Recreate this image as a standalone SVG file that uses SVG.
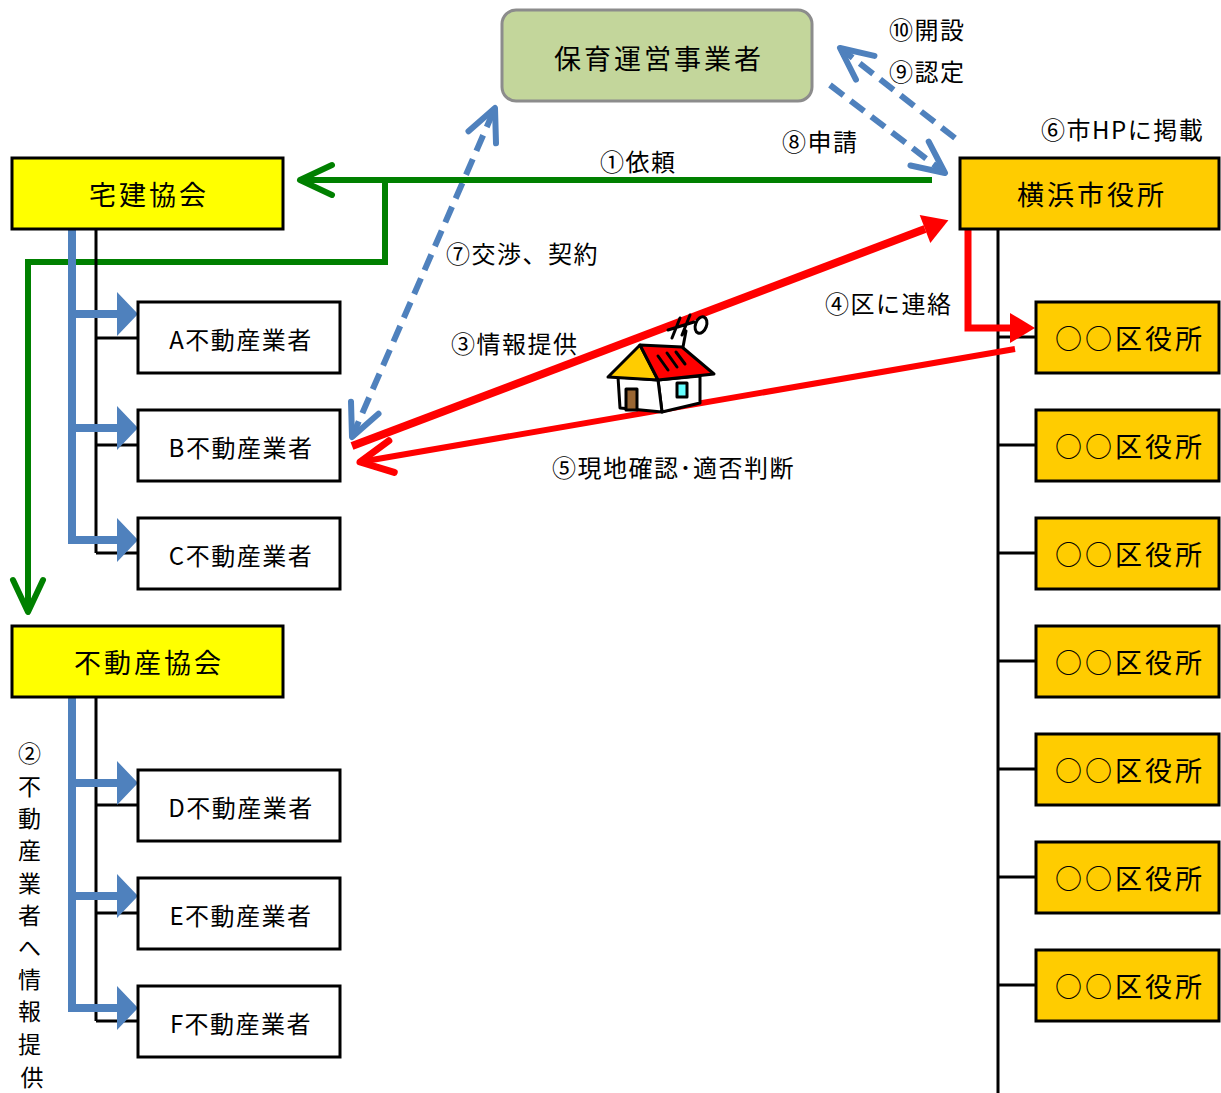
<svg xmlns="http://www.w3.org/2000/svg" width="1221" height="1093" viewBox="0 0 1221 1093">
<style>
  text { font-family: "Noto Sans CJK JP", "Noto Sans", sans-serif; fill: #000; dominant-baseline: central; }
  .lbl { font-size: 24px; letter-spacing: 1.5px; }
  .big { font-size: 27px; letter-spacing: 3px; text-anchor: middle; }
  .mid { font-size: 24px; letter-spacing: 1.5px; text-anchor: middle; }
  .vert { font-size: 23px; text-anchor: middle; }
  .box { stroke: #000; stroke-width: 3; }
  .kyokai { fill: #FFFF00; }
  .shiyaku { fill: #FFCC00; }
  .gyosha { fill: #FFFFFF; }
  .tree { stroke: #000; stroke-width: 3; fill: none; }
  .blue { fill: #4F81BD; }
  .green { stroke: #008000; stroke-width: 6; fill: none; stroke-linejoin: miter; }
  .red { stroke: #FF0000; fill: none; stroke-linejoin: miter; }
  .dash { stroke: #4F81BD; stroke-width: 6; stroke-dasharray: 17 9; fill: none; }
</style>
<defs>
  <marker id="chevBlue" markerUnits="userSpaceOnUse" markerWidth="80" markerHeight="80" viewBox="-40 -40 80 80" refX="0" refY="0" orient="auto-start-reverse" overflow="visible">
    <path d="M-32,-15 L0,0 L-32,15" fill="none" stroke="#4F81BD" stroke-width="6" stroke-linecap="round" stroke-linejoin="round"/>
  </marker>
  <marker id="chevGreen" markerUnits="userSpaceOnUse" markerWidth="80" markerHeight="80" viewBox="-40 -40 80 80" refX="0" refY="0" orient="auto" overflow="visible">
    <path d="M-32,-15 L0,0 L-32,15" fill="none" stroke="#008000" stroke-width="6" stroke-linecap="round" stroke-linejoin="round"/>
  </marker>
  <marker id="chevRed" markerUnits="userSpaceOnUse" markerWidth="80" markerHeight="80" viewBox="-40 -40 80 80" refX="0" refY="0" orient="auto" overflow="visible">
    <path d="M-32,-16 L0,0 L-32,16" fill="none" stroke="#FF0000" stroke-width="7" stroke-linecap="round" stroke-linejoin="round"/>
  </marker>
  <marker id="triRed" markerUnits="userSpaceOnUse" markerWidth="80" markerHeight="80" viewBox="-40 -40 80 80" refX="0" refY="0" orient="auto" overflow="visible">
    <path d="M0,-15 L25,0 L0,15 Z" fill="#FF0000"/>
  </marker>
  <!-- thick blue branch arrow pointing right, origin at the trunk -->
  <path id="branch" d="M0,-4 H49 V-22 L70,0 L49,22 V4 H0 Z"/>
</defs>

<!-- connectors -->
<g id="connectors">
  <!-- ⑦ negotiation / contract -->
  <path class="dash" d="M352,437 L495,108" marker-start="url(#chevBlue)" marker-end="url(#chevBlue)"/>
  <!-- ⑧ application -->
  <path class="dash" d="M830,85 L945,173" marker-end="url(#chevBlue)"/>
  <!-- ⑨ approval / ⑩ opening -->
  <path class="dash" d="M955,138 L840,48" marker-end="url(#chevBlue)"/>

  <!-- ① request, and forward to the real-estate association -->
  <path class="green" d="M932,180 L300,180" marker-end="url(#chevGreen)"/>
  <path class="green" d="M385,180 L385,262 L28,262 L28,612" marker-end="url(#chevGreen)"/>

  <!-- org-chart trunks -->
  <path class="tree" d="M96,229 V553 M96,338 H138 M96,445 H138 M96,553 H138"/>
  <path class="tree" d="M96,697 V1021 M96,805 H138 M96,913 H138 M96,1021 H138"/>
  <path class="tree" d="M998,229 V1093 M998,337 H1036 M998,445 H1036 M998,553 H1036 M998,661 H1036 M998,769 H1036 M998,877 H1036 M998,985 H1036"/>

  <!-- ② information distribution -->
  <rect class="blue" x="68" y="229" width="8" height="315"/>
  <use href="#branch" class="blue" x="68" y="314"/>
  <use href="#branch" class="blue" x="68" y="428"/>
  <use href="#branch" class="blue" x="68" y="540"/>
  <rect class="blue" x="68" y="697" width="8" height="315"/>
  <use href="#branch" class="blue" x="68" y="783"/>
  <use href="#branch" class="blue" x="68" y="896"/>
  <use href="#branch" class="blue" x="68" y="1008"/>

  <!-- ③ information, ④ notify ward, ⑤ site check -->
  <path class="red" stroke-width="8" d="M352,446 L925,229" marker-end="url(#triRed)"/>
  <path class="red" stroke-width="7" d="M968,230 L968,328 L1010,328" marker-end="url(#triRed)"/>
  <path class="red" stroke-width="6" d="M1015,349 L360,462" marker-end="url(#chevRed)"/>
</g>

<!-- house -->
<g id="house" stroke="#000" stroke-width="3" stroke-linejoin="round" stroke-linecap="round">
  <polygon points="658,380 700,376 700,403 662,412" fill="#FFFFFF"/>
  <polygon points="618,377 658,380 662,412 620,408" fill="#FFFFFF"/>
  <polygon points="608,377 640,345 658,380" fill="#FFCC00"/>
  <polygon points="640,345 682,347 714,374 658,380" fill="#FF0000"/>
  <rect x="626" y="389" width="11" height="21" fill="#996633"/>
  <rect x="677" y="383" width="10" height="14" fill="#66FFFF"/>
  <path d="M658,356 L668,370 M667,353 L677,367 M676,352 L685,364" fill="none"/>
  <path d="M683,347 L686,331 M672,338 L680,318 M682,335 L690,315 M668,330 L694,322" fill="none"/>
  <ellipse cx="701" cy="325" rx="5.5" ry="8.5" transform="rotate(20 701 325)" fill="none"/>
</g>

<!-- nodes -->
<g id="hoiku">
  <rect x="502" y="10" width="310" height="91" rx="14" fill="#C3D69B" stroke="#8C8C8C" stroke-width="3"/>
  <text class="big" x="659" y="57">保育運営事業者</text>
</g>
<g id="takken">
  <rect class="box kyokai" x="12" y="158" width="271" height="71"/>
  <text class="big" x="149" y="193">宅建協会</text>
</g>
<g id="fudosan-kyokai">
  <rect class="box kyokai" x="12" y="626" width="271" height="71"/>
  <text class="big" x="149" y="661">不動産協会</text>
</g>
<g id="gyosha-a">
  <rect class="box gyosha" x="138" y="302" width="202" height="71"/>
  <text class="mid" x="241" y="338">A不動産業者</text>
</g>
<g id="gyosha-b">
  <rect class="box gyosha" x="138" y="410" width="202" height="71"/>
  <text class="mid" x="241" y="446">B不動産業者</text>
</g>
<g id="gyosha-c">
  <rect class="box gyosha" x="138" y="518" width="202" height="71"/>
  <text class="mid" x="241" y="554">C不動産業者</text>
</g>
<g id="gyosha-d">
  <rect class="box gyosha" x="138" y="770" width="202" height="71"/>
  <text class="mid" x="241" y="806">D不動産業者</text>
</g>
<g id="gyosha-e">
  <rect class="box gyosha" x="138" y="878" width="202" height="71"/>
  <text class="mid" x="241" y="914">E不動産業者</text>
</g>
<g id="gyosha-f">
  <rect class="box gyosha" x="138" y="986" width="202" height="71"/>
  <text class="mid" x="241" y="1022">F不動産業者</text>
</g>
<g id="shiyakusho">
  <rect class="box shiyaku" x="960" y="158" width="259" height="71"/>
  <text class="big" x="1092" y="193">横浜市役所</text>
</g>
<g id="ku-1">
  <rect class="box shiyaku" x="1036" y="302" width="183" height="71"/>
  <text class="big" x="1130" y="337">○○区役所</text>
</g>
<g id="ku-2">
  <rect class="box shiyaku" x="1036" y="410" width="183" height="71"/>
  <text class="big" x="1130" y="445">○○区役所</text>
</g>
<g id="ku-3">
  <rect class="box shiyaku" x="1036" y="518" width="183" height="71"/>
  <text class="big" x="1130" y="553">○○区役所</text>
</g>
<g id="ku-4">
  <rect class="box shiyaku" x="1036" y="626" width="183" height="71"/>
  <text class="big" x="1130" y="661">○○区役所</text>
</g>
<g id="ku-5">
  <rect class="box shiyaku" x="1036" y="734" width="183" height="71"/>
  <text class="big" x="1130" y="769">○○区役所</text>
</g>
<g id="ku-6">
  <rect class="box shiyaku" x="1036" y="842" width="183" height="71"/>
  <text class="big" x="1130" y="877">○○区役所</text>
</g>
<g id="ku-7">
  <rect class="box shiyaku" x="1036" y="950" width="183" height="71"/>
  <text class="big" x="1130" y="985">○○区役所</text>
</g>

<!-- step labels -->
<g id="labels">
  <text class="lbl" x="889" y="28">⑩開設</text>
  <text class="lbl" x="889" y="70">⑨認定</text>
  <text class="lbl" x="1041" y="128">⑥市HPに掲載</text>
  <text class="lbl" x="782" y="140">⑧申請</text>
  <text class="lbl" x="600" y="160">①依頼</text>
  <text class="lbl" x="446" y="252">⑦交渉、契約</text>
  <text class="lbl" x="825" y="302">④区に連絡</text>
  <text class="lbl" x="451" y="342">③情報提供</text>
  <text class="lbl" x="552" y="466">⑤現地確認･適否判断</text>
  <text class="vert">
    <tspan x="32" y="752">②</tspan>
    <tspan x="32" y="785">不</tspan>
    <tspan x="32" y="817">動</tspan>
    <tspan x="32" y="849">産</tspan>
    <tspan x="32" y="882">業</tspan>
    <tspan x="32" y="914">者</tspan>
    <tspan x="32" y="946">へ</tspan>
    <tspan x="32" y="978">情</tspan>
    <tspan x="32" y="1010">報</tspan>
    <tspan x="32" y="1043">提</tspan>
    <tspan x="32" y="1076">供</tspan>
  </text>
</g>
</svg>
